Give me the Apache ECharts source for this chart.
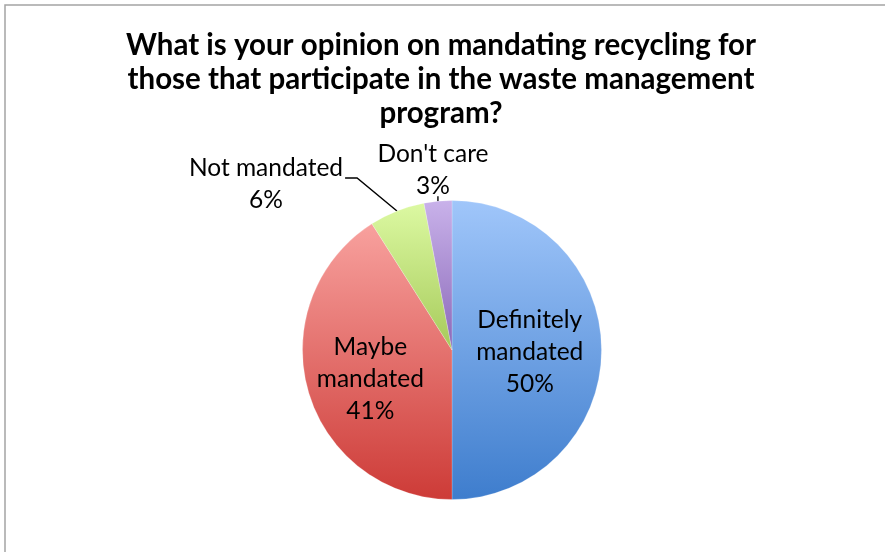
<!DOCTYPE html>
<html>
<head>
<meta charset="utf-8">
<script src="https://cdn.jsdelivr.net/npm/echarts@6/dist/echarts.min.js"></script>
<style>
  html, body { margin: 0; padding: 0; background: #fff; }
  #chart { width: 885px; height: 552px; }
</style>
</head>
<body>
<div id="chart"></div>
<script>
// Survey answers and their shares (percent)
const categories = ['Definitely mandated', 'Maybe mandated', 'Not mandated', "Don't care"];
const shares = [50, 41, 6, 3];

// Top / bottom gradient stops per slice
const topColors = ['#a0c6fa', '#f8a19e', '#dcf9a2', '#c9b2ea'];
const bottomColors = ['#3e7dcd', '#cd3b37', '#a6ca5a', '#8a68b8'];

const titleText = 'What is your opinion on mandating recycling for\nthose that participate in the waste management\nprogram?';

const chart = echarts.init(document.getElementById('chart'), null, { renderer: 'canvas' });

const FONT = 'Lato, Carlito, "Open Sans", sans-serif';

const data = categories.map((name, i) => ({
  name,
  value: shares[i],
  itemStyle: {
    color: new echarts.graphic.LinearGradient(0, 0, 0, 1, [
      { offset: 0, color: topColors[i] },
      { offset: 1, color: bottomColors[i] }
    ])
  },
  label: i < 2
    ? { position: 'inside' }
    : { position: 'outside' },
  labelLine: i < 2 ? { show: false } : { show: true }
}));

chart.setOption({
  animation: false,
  backgroundColor: '#ffffff',
  title: {
    text: titleText,
    left: 436,
    top: 23,
    textAlign: 'center',
    textStyle: {
      fontFamily: FONT,
      fontWeight: 'bold',
      fontSize: 29.5,
      lineHeight: 34,
      color: '#000'
    }
  },
  graphic: [{
    type: 'rect',
    shape: { x: 5, y: 5, width: 1000, height: 1000 },
    style: { fill: 'none', stroke: '#a4a4a4', lineWidth: 1.5 },
    silent: true
  }],
  series: [{
    type: 'pie',
    center: [452, 350],
    radius: [0, 149.5],
    startAngle: 90,
    clockwise: true,
    avoidLabelOverlap: false,
    itemStyle: { borderColor: 'rgba(255,255,255,0.35)', borderWidth: 0.6 },
    label: {
      show: true,
      fontFamily: FONT,
      fontSize: 24.5,
      lineHeight: 32,
      color: '#000',
      formatter: p => {
        const name = p.dataIndex < 2 ? p.name.replace(' ', '\n') : p.name;
        return name + '\n' + p.value + '%';
      }
    },
    labelLine: {
      lineStyle: { color: '#000', width: 1.4 },
      smooth: false
    },
    labelLayout: params => {
      const idx = params.dataIndex;
      if (idx === 0) {
        return { dy: 2 };
      }
      if (idx === 1) {
        return { dx: -7, dy: 7 };
      }
      if (idx === 2) {
        const x = 266, y = 184;
        const right = x + params.labelRect.width / 2;
        const p0 = params.labelLinePoints ? params.labelLinePoints[0] : [397, 211];
        return {
          x, y, align: 'center', verticalAlign: 'middle',
          labelLinePoints: [p0, [right + 14, y - 6], [right + 2, y - 6]]
        };
      }
      if (idx === 3) {
        const p0 = params.labelLinePoints ? params.labelLinePoints[0] : [438, 201];
        return {
          x: 433, y: 170, align: 'center', verticalAlign: 'middle',
          labelLinePoints: [p0, [p0[0], p0[1] - 5]]
        };
      }
      return {};
    },
    data
  }]
});
</script>
</body>
</html>
